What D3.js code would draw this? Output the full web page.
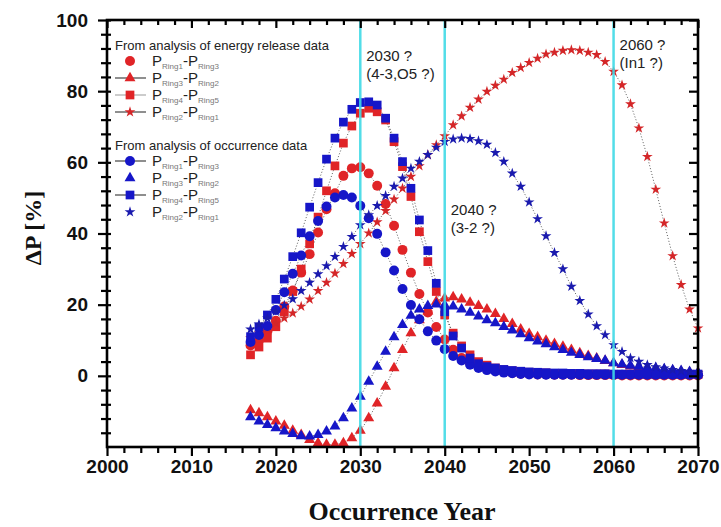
<!DOCTYPE html>
<html>
<head>
<meta charset="utf-8">
<script src="https://cdn.jsdelivr.net/npm/d3@7"></script>
<style>
    body { margin: 0; background: #fff; }
    svg { display: block; }
    text { font-family: Arial, "Liberation Sans", sans-serif; }
</style>
</head>
<body>
<div id="viz"></div>
<script>
// years 2017..2070, one value per year
var firstYear = 2017,
    lastYear = 2070,

    xMajorTicks = [2000, 2010, 2020, 2030, 2040, 2050, 2060, 2070],
    yMajorTicks = [0, 20, 40, 60, 80, 100],
    markerYears = [2030, 2040, 2060],

    // from analysis of energy release data
    energyR1R3 = [8.5, 10, 12.5,
        15.5, 19.5, 24, 29, 34.2, 40.3, 46.8, 51.3, 56.2, 58.3,
        58.6, 56.9, 53.4, 48.3, 42.2, 35.4, 29, 23, 17.8, 13.7,
        10.2, 7.3, 5, 3.6, 2.7, 2, 1.5, 1.1, 0.8, 0.6,
        0.5, 0.4, 0.4, 0.3, 0.3, 0.3, 0.2, 0.2, 0.2, 0.2,
        0.2, 0.1, 0.1, 0.1, 0.1, 0.1, 0.1, 0.1, 0.1, 0.1,
        0.1],
    energyR3R2 = [-9.6, -10.5, -11.6,
        -12.8, -14, -15.4, -16.6, -18, -18.9, -19.3, -19.3, -18.9, -17.5,
        -15.4, -11.9, -7.7, -3, 2.2, 7.3, 12, 15.7, 18.1, 20.9,
        21.8, 22.1, 21.5, 20.6, 19.7, 18.7, 17.4, 16, 14.6, 13.1,
        11.8, 10.9, 9.9, 9, 8.2, 7.3, 6.4, 5.6, 4.9, 4.2,
        3.6, 3.1, 2.7, 2.4, 2.1, 1.9, 1.6, 1.4, 1.2, 1,
        0.9],
    energyR4R5 = [5.9, 8.1, 10.6,
        13.8, 18, 23.7, 30, 37.1, 44.6, 52, 59, 65.4, 70.2,
        73.8, 75.2, 74.2, 71.9, 65.8, 58.8, 50.4, 40.5, 32.1, 23.7,
        17.1, 12, 8.4, 5.9, 4, 3, 2.2, 1.7, 1.4, 1.2,
        1, 0.9, 0.8, 0.7, 0.7, 0.6, 0.6, 0.5, 0.5, 0.5,
        0.4, 0.4, 0.4, 0.4, 0.4, 0.4, 0.4, 0.4, 0.4, 0.4,
        0.4],
    energyR2R1 = [10.6, 12, 13.3,
        14.8, 16.2, 17.6, 19.5, 21.5, 23.9, 26.2, 28.8, 31.5, 34.3,
        37.1, 40.1, 43.2, 46.4, 49.6, 52.7, 56, 59, 62.1, 64.9,
        67.4, 70.5, 73, 75.4, 77.7, 79.9, 81.6, 83.3, 85.2, 86.6,
        88, 89.2, 90.4, 90.9, 91.4, 91.6, 91.4, 90.9, 90.2, 88.3,
        85.5, 81.7, 76.4, 69.6, 61.6, 52.4, 42.9, 33.7, 25.6, 18.7,
        13.4],

    // from analysis of occurrence data
    occR1R3 = [9.5, 11.5, 14,
        18.5, 23.5, 28.7, 33.8, 39.2, 43.5, 47.6, 50.1, 50.8, 50.1,
        47.8, 44.3, 39.9, 34.7, 29.6, 24.4, 19.9, 15.9, 12.5, 9.9,
        7.5, 5.6, 4.3, 3.1, 2.2, 1.6, 1.2, 0.9, 0.7, 0.5,
        0.4, 0.4, 0.3, 0.3, 0.3, 0.3, 0.3, 0.3, 0.3, 0.3,
        0.3, 0.3, 0.3, 0.3, 0.3, 0.3, 0.3, 0.3, 0.3, 0.3,
        0.3],
    occR3R2 = [-11.6, -12.8, -13.8,
        -14.7, -15.6, -16.3, -16.9, -17, -16.6, -15.6, -14.2, -11.9, -9.1,
        -5.8, -1.6, 2.6, 6.8, 10.9, 14.3, 16.9, 18.7, 19.7, 20.1,
        19.9, 19.5, 18.7, 17.8, 16.7, 15.7, 14.8, 13.8, 12.8, 11.7,
        10.6, 9.7, 8.9, 8.1, 7.3, 6.5, 5.9, 5.3, 4.8, 4.3,
        3.6, 3.2, 2.9, 2.6, 2.4, 2.2, 1.9, 1.6, 1.4, 1.1,
        0.9],
    occR4R5 = [11, 13.7, 17.1,
        21.5, 27.2, 33.5, 40.2, 47.4, 54.3, 60.9, 66.8, 71.3, 74.9,
        76.8, 77, 76.1, 72.4, 66.8, 60.2, 52.7, 43.8, 35.2, 26,
        18, 11.2, 7.8, 5, 3.4, 2.6, 2.2, 1.8, 1.5, 1.3,
        1.1, 1, 0.9, 0.8, 0.8, 0.7, 0.7, 0.6, 0.6, 0.6,
        0.5, 0.5, 0.5, 0.5, 0.5, 0.5, 0.5, 0.5, 0.5, 0.5,
        0.5],
    occR2R1 = [13.1, 14.5, 16.2,
        18.1, 19.8, 21.6, 23.9, 26.2, 28.6, 30.9, 33.5, 36.3, 39.1,
        42.4, 45.2, 47.8, 50.6, 53.2, 55.5, 58.3, 60.2, 62.1, 64.2,
        65.8, 66.5, 66.8, 66.6, 66, 65, 62.7, 60.2, 56.9, 53.2,
        48.8, 44.1, 39.3, 34.6, 30, 25.1, 21.1, 17.3, 14, 11.5,
        8.7, 6.8, 5, 4, 3.1, 2.5, 2.1, 1.7, 1.4, 1.1,
        0.9],

    years = d3.range(firstYear, lastYear + 1),

    red = '#e02427',
    blue = '#1616c8',

    series = [
        {a: 'Ring1', b: 'Ring3', values: energyR1R3, symbol: d3.symbolCircle, size: 78, color: red, legendLine: null},
        {a: 'Ring3', b: 'Ring2', values: energyR3R2, symbol: d3.symbolTriangle, size: 52, color: red, legendLine: '#444'},
        {a: 'Ring4', b: 'Ring5', values: energyR4R5, symbol: d3.symbolSquare, size: 76, color: red, legendLine: '#aaa'},
        {a: 'Ring2', b: 'Ring1', values: energyR2R1, symbol: d3.symbolStar, size: 36, color: '#d42628', legendLine: '#444'},
        {a: 'Ring1', b: 'Ring3', values: occR1R3, symbol: d3.symbolCircle, size: 78, color: blue, legendLine: '#444'},
        {a: 'Ring3', b: 'Ring2', values: occR3R2, symbol: d3.symbolTriangle, size: 52, color: blue, legendLine: null},
        {a: 'Ring4', b: 'Ring5', values: occR4R5, symbol: d3.symbolSquare, size: 76, color: blue, legendLine: '#444'},
        {a: 'Ring2', b: 'Ring1', values: occR2R1, symbol: d3.symbolStar, size: 36, color: '#1a1aae', legendLine: null}
    ],

    x = d3.scaleLinear().domain([2000, 2070]).range([107, 698]),
    y = d3.scaleLinear().domain([-20, 100]).range([447, 20]),

    svg = d3.select('#viz')
        .append('svg')
            .attr('width', 721)
            .attr('height', 527);

svg.append('rect')
    .attr('width', 721)
    .attr('height', 527)
    .attr('fill', '#fff');

var line = d3.line()
    .x(function (d, i) { return x(years[i]); })
    .y(function (d) { return y(d); });

// thin dotted connectors
svg.append('g')
    .attr('class', 'curves')
    .selectAll('path')
    .data(series)
    .enter()
    .append('path')
        .attr('d', function (s) { return line(s.values); })
        .attr('fill', 'none')
        .attr('stroke', '#333')
        .attr('stroke-width', 0.8)
        .attr('stroke-dasharray', '1,2');

var dotsGroup = svg.append('g').attr('class', 'dots');

series.forEach(function (s) {
    dotsGroup.append('g')
        .selectAll('path')
        .data(s.values)
        .enter()
        .append('path')
            .attr('transform', function (d, i) {
                return 'translate(' + x(years[i]) + ',' + y(d) + ')';
            })
            .attr('d', d3.symbol().type(s.symbol).size(s.size))
            .attr('fill', s.color);
});

// cyan year markers
svg.append('g')
    .selectAll('line')
    .data(markerYears)
    .enter()
    .append('line')
        .attr('x1', function (d) { return x(d); })
        .attr('x2', function (d) { return x(d); })
        .attr('y1', y(100))
        .attr('y2', y(-20))
        .attr('stroke', '#3fd9e6')
        .attr('stroke-opacity', 0.9)
        .attr('stroke-width', 2.5);

// axes
var xMinorTicks = d3.range(2000, 2071, 2).filter(function (d) { return d % 10 !== 0; }),
    yMinorTicks = d3.range(-20, 101, 4).filter(function (d) { return d % 20 !== 0; }),

    styleTicks = function (g) {
        g.select('.domain').remove();
        g.selectAll('.tick line').attr('stroke', '#000').attr('stroke-width', 2.2);
        g.selectAll('.tick text')
            .attr('fill', '#111')
            .style('font-size', '19px')
            .style('font-weight', 'bold');
    };

svg.append('g')
    .attr('transform', 'translate(0,' + y(-20) + ')')
    .call(d3.axisBottom(x).tickValues(xMajorTicks).tickSize(9).tickPadding(4).tickFormat(d3.format('d')))
    .call(styleTicks);

svg.append('g')
    .attr('transform', 'translate(0,' + y(-20) + ')')
    .call(d3.axisBottom(x).tickValues(xMinorTicks).tickSize(6).tickFormat(''))
    .call(styleTicks);

svg.append('g')
    .attr('transform', 'translate(0,' + y(100) + ')')
    .call(d3.axisTop(x).tickValues(xMajorTicks).tickSize(-8).tickFormat(''))
    .call(styleTicks);

svg.append('g')
    .attr('transform', 'translate(0,' + y(100) + ')')
    .call(d3.axisTop(x).tickValues(xMinorTicks).tickSize(-5).tickFormat(''))
    .call(styleTicks);

svg.append('g')
    .attr('transform', 'translate(' + x(2000) + ',0)')
    .call(d3.axisLeft(y).tickValues(yMajorTicks).tickSize(9).tickPadding(10))
    .call(styleTicks)
    .selectAll('.tick line').attr('x1', 4);

svg.append('g')
    .attr('transform', 'translate(' + x(2000) + ',0)')
    .call(d3.axisLeft(y).tickValues(yMinorTicks).tickSize(6).tickFormat(''))
    .call(styleTicks)
    .selectAll('.tick line').attr('x1', 4);

svg.append('g')
    .attr('transform', 'translate(' + x(2070) + ',0)')
    .call(d3.axisRight(y).tickValues(yMajorTicks).tickSize(-9).tickFormat(''))
    .call(styleTicks);

svg.append('g')
    .attr('transform', 'translate(' + x(2070) + ',0)')
    .call(d3.axisRight(y).tickValues(yMinorTicks).tickSize(-5).tickFormat(''))
    .call(styleTicks);

svg.append('rect')
    .attr('x', x(2000))
    .attr('y', y(100))
    .attr('width', x(2070) - x(2000))
    .attr('height', y(-20) - y(100))
    .attr('fill', 'none')
    .attr('stroke', '#000')
    .attr('stroke-width', 2.6);

// axis titles
svg.append('text')
    .attr('transform', 'translate(33,228) rotate(-90)')
    .attr('text-anchor', 'middle')
    .attr('dy', '0.35em')
    .style('font-family', '"Liberation Serif", "Times New Roman", serif')
    .style('font-weight', 'bold')
    .style('font-size', '24px')
    .attr('fill', '#111')
    .text('\u0394P [%]');

svg.append('text')
    .attr('x', 402)
    .attr('y', 520)
    .attr('text-anchor', 'middle')
    .style('font-family', '"Liberation Serif", "Times New Roman", serif')
    .style('font-weight', 'bold')
    .style('font-size', '26px')
    .attr('fill', '#111')
    .text('Occurrence Year');

// annotations
var notes = [
    {year: 2030, top: 61, lines: ['2030 ?', '(4-3,O5 ?)']},
    {year: 2040, top: 215, lines: ['2040 ?', '(3-2 ?)']},
    {year: 2060, top: 50, lines: ['2060 ?', '(In1 ?)']}
];

notes.forEach(function (n) {
    n.lines.forEach(function (t, i) {
        svg.append('text')
            .attr('x', x(n.year) + 6)
            .attr('y', n.top + i * 18)
            .attr('fill', '#222')
            .style('font-size', '15px')
            .text(t);
    });
});

// legend
var legendHeaders = ['From analysis of energy release data', 'From analysis of occurrence data'],
    legendTop = [50, 150],
    legendRows = [61, 78, 95, 112, 161, 178, 195, 212],
    legend = svg.append('g').attr('class', 'legend');

legendHeaders.forEach(function (h, i) {
    legend.append('text')
        .attr('x', 115)
        .attr('y', legendTop[i])
        .attr('fill', '#222')
        .style('font-size', '13px')
        .text(h);
});

series.forEach(function (s, i) {
    var ry = legendRows[i],
        label;

    if (s.legendLine) {
        legend.append('line')
            .attr('x1', 115)
            .attr('x2', 146)
            .attr('y1', ry)
            .attr('y2', ry)
            .attr('stroke', s.legendLine)
            .attr('stroke-width', 1.2);
    }

    legend.append('path')
        .attr('transform', 'translate(130,' + ry + ')')
        .attr('d', d3.symbol().type(s.symbol).size(s.size))
        .attr('fill', s.color);

    label = legend.append('text')
        .attr('x', 152)
        .attr('y', ry + 5)
        .attr('fill', '#222')
        .style('font-size', '15px');

    label.append('tspan').text('P');
    label.append('tspan')
        .attr('dy', 3)
        .attr('fill', '#777')
        .style('font-size', '8px')
        .text(s.a);
    label.append('tspan')
        .attr('dy', -3)
        .text('-P');
    label.append('tspan')
        .attr('dy', 3)
        .attr('fill', '#777')
        .style('font-size', '8px')
        .text(s.b);
});
</script>
</body>
</html>
